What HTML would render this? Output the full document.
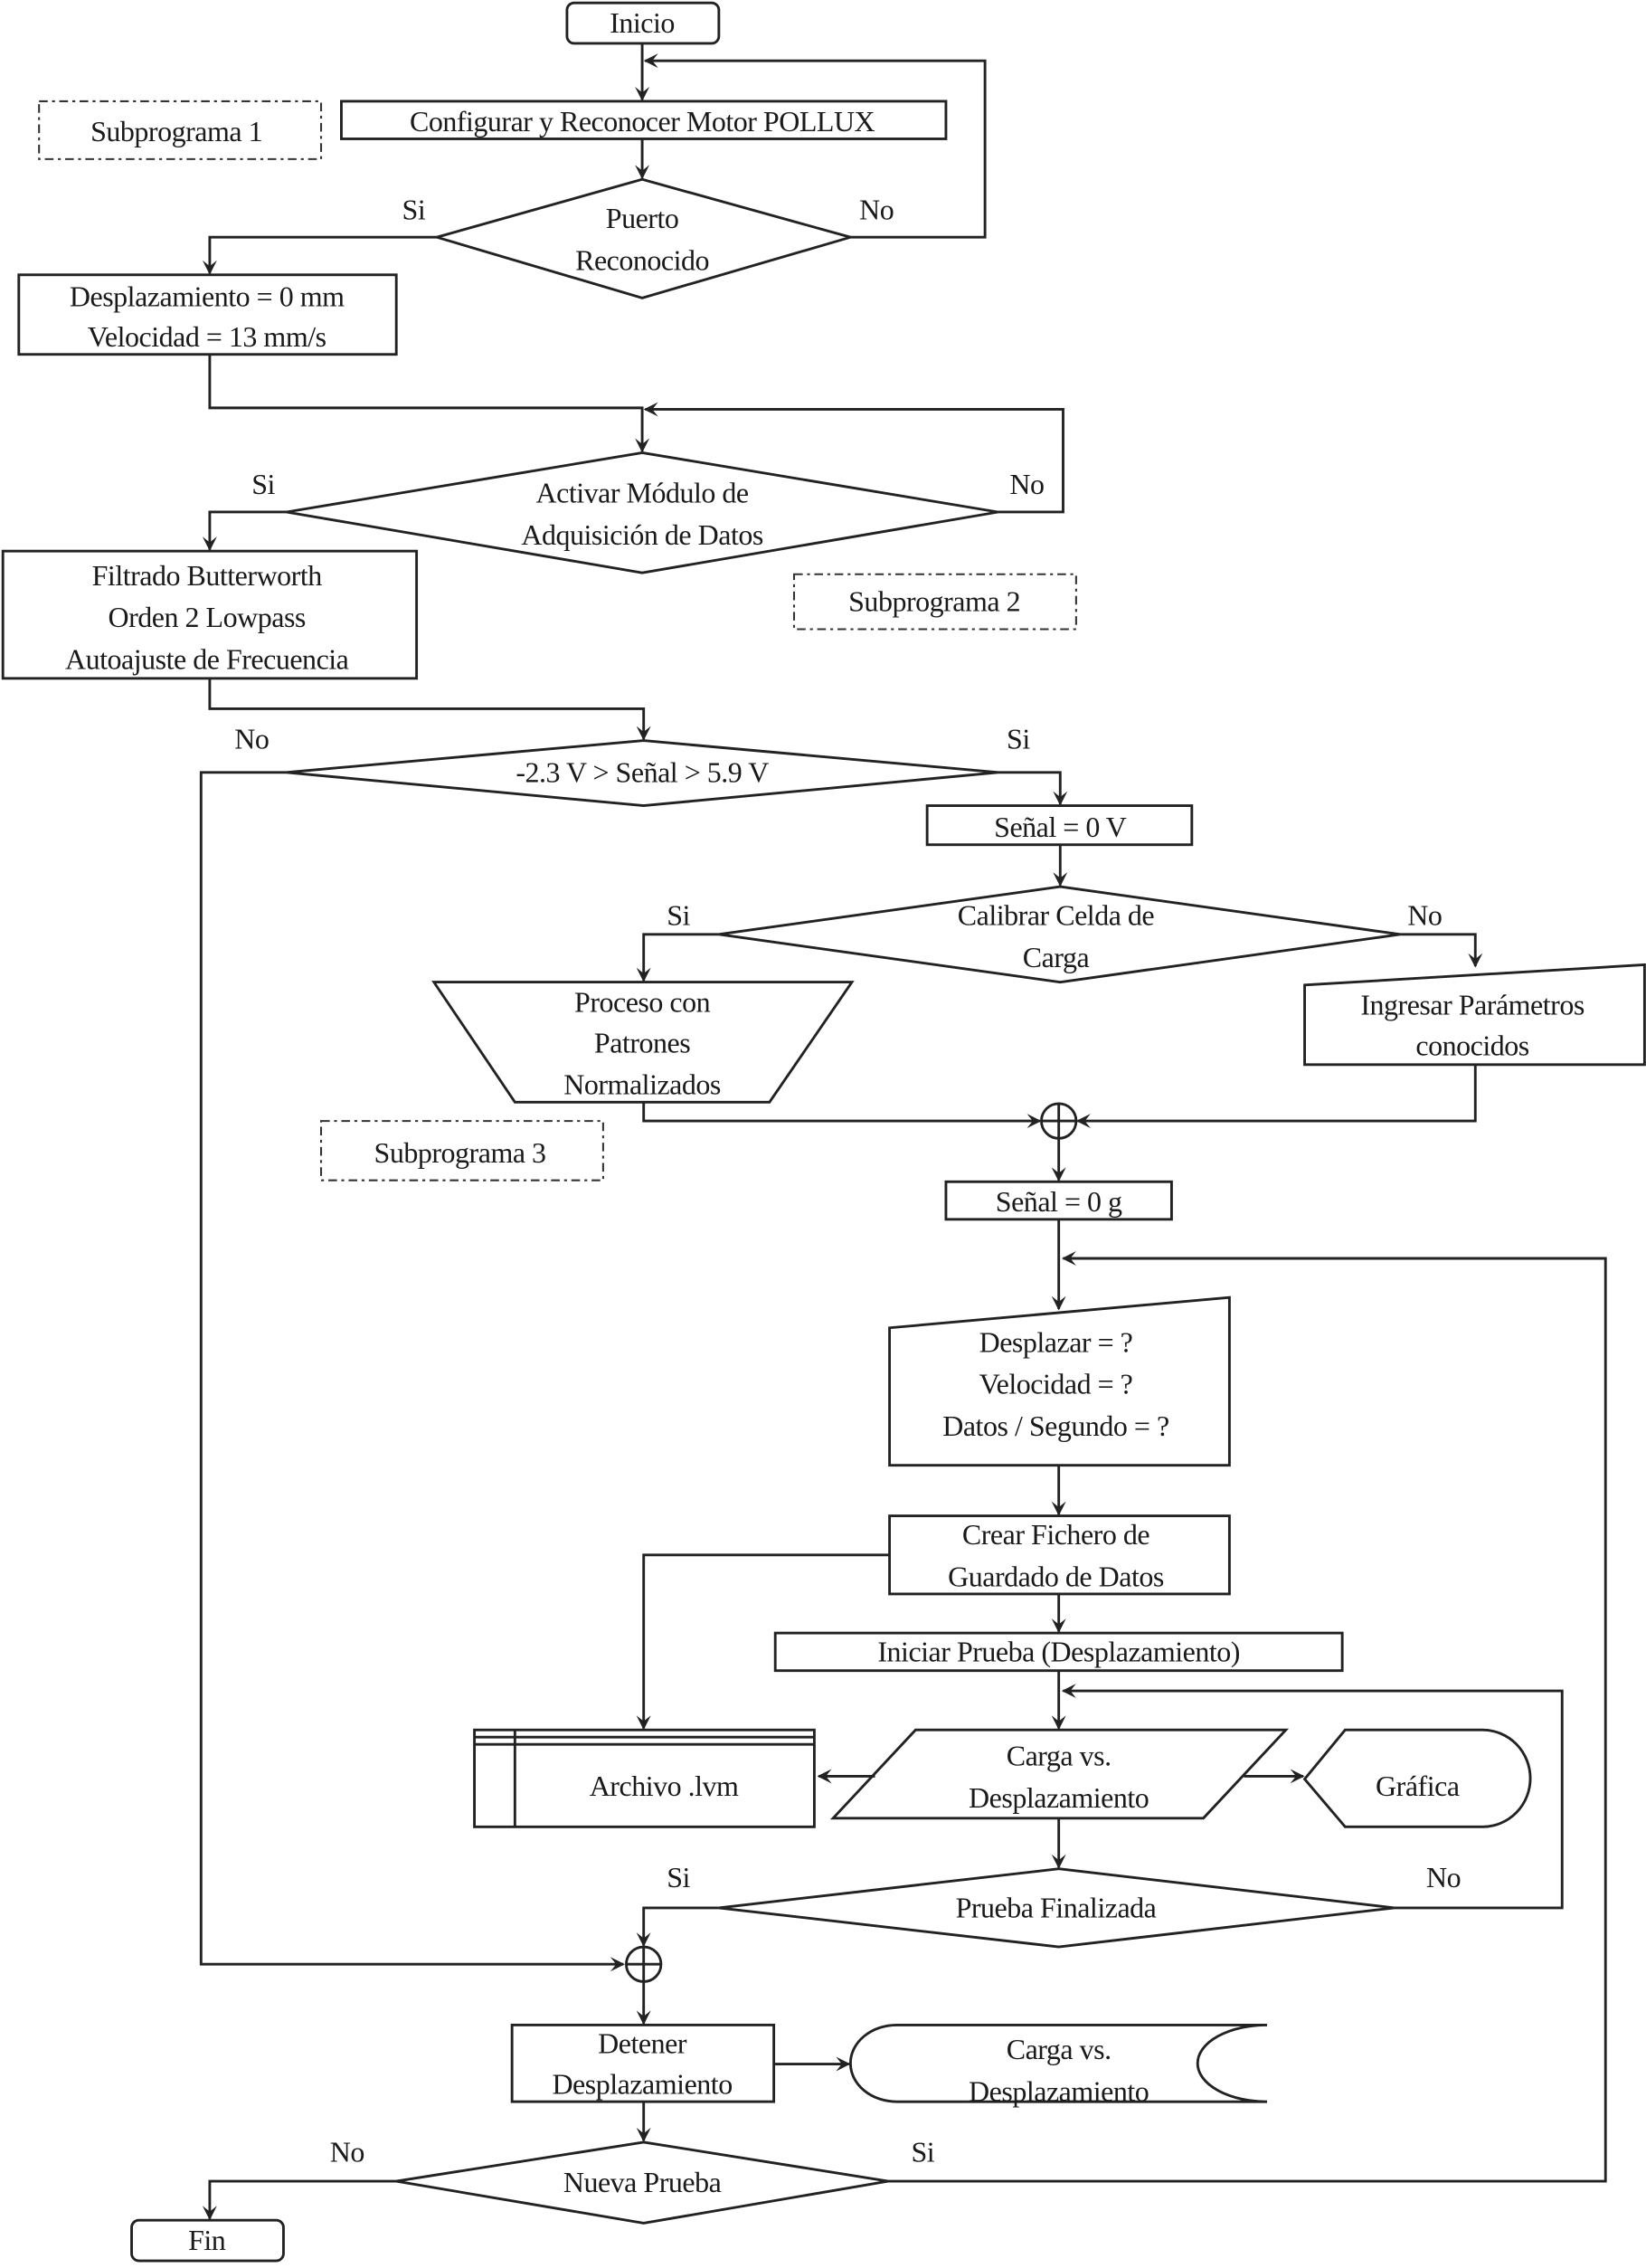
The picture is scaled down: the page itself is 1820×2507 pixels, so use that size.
<!DOCTYPE html>
<html><head><meta charset="utf-8"><style>
html,body{margin:0;padding:0;background:#fff;}
svg{display:block;}
text{font-family:"Liberation Serif",serif;font-size:20px;fill:#1a1a1a;text-anchor:middle;dominant-baseline:middle;letter-spacing:-0.3px;}
.s{fill:none;stroke:#222;stroke-width:1.8;}
.d{fill:none;stroke:#333;stroke-width:1.3;stroke-dasharray:6 3 2 3;}
</style></head><body>
<svg width="1820" height="2507" viewBox="0 0 1138 1568" preserveAspectRatio="none" xmlns="http://www.w3.org/2000/svg">
<defs><marker id="a" markerWidth="10" markerHeight="10" refX="9" refY="5" orient="auto" markerUnits="userSpaceOnUse"><path d="M0,0 L10,5 L0,10 L4,5 Z" fill="#222"/></marker></defs>

<g>
<rect class="s" x="392" y="2" width="105" height="28" rx="5"/>
<line class="s" x1="444" y1="30" x2="444" y2="69" marker-end="url(#a)"/>
<polyline class="s" points="588,164 681,164 681,42 446,42" marker-end="url(#a)"/>
<rect class="d" x="27" y="70" width="195" height="40"/>
<rect class="s" x="236" y="70" width="418" height="26"/>
<line class="s" x1="444" y1="96" x2="444" y2="123" marker-end="url(#a)"/>
<polygon class="s" points="444,124 588,164 444,206 302,164"/>
<polyline class="s" points="302,164 145,164 145,189" marker-end="url(#a)"/>
<rect class="s" x="13" y="190" width="261" height="55"/>
<polyline class="s" points="145,245 145,282 444,282 444,312" marker-end="url(#a)"/>
<polyline class="s" points="690,354 735,354 735,283 446,283" marker-end="url(#a)"/>
<polygon class="s" points="444,313 690,354 444,396 198,354"/>
<polyline class="s" points="198,354 145,354 145,380" marker-end="url(#a)"/>
<rect class="s" x="2" y="381" width="286" height="88"/>
<rect class="d" x="549" y="397" width="195" height="38"/>
<polyline class="s" points="145,469 145,490 445,490 445,511" marker-end="url(#a)"/>
<polygon class="s" points="445,512 690,534 445,557 198,534"/>
<polyline class="s" points="198,534 139,534 139,1358 431,1358" marker-end="url(#a)"/>
<polyline class="s" points="690,534 733,534 733,556" marker-end="url(#a)"/>
<rect class="s" x="641" y="557" width="183" height="27"/>
<line class="s" x1="733" y1="584" x2="733" y2="612" marker-end="url(#a)"/>
<polygon class="s" points="733,613 968,646 733,679 497,646"/>
<polyline class="s" points="497,646 445,646 445,678" marker-end="url(#a)"/>
<polygon class="s" points="300,679 589,679 532,762 356,762"/>
<polyline class="s" points="968,646 1020,646 1020,668" marker-end="url(#a)"/>
<polygon class="s" points="902,681 1137,667 1137,736 902,736"/>
<polyline class="s" points="445,762 445,775 719,775" marker-end="url(#a)"/>
<polyline class="s" points="1020,736 1020,775 745,775" marker-end="url(#a)"/>
<circle class="s" cx="732" cy="775" r="12"/><line class="s" x1="720" y1="775" x2="744" y2="775"/><line class="s" x1="732" y1="763" x2="732" y2="787"/>
<rect class="d" x="222" y="775" width="195" height="41"/>
<line class="s" x1="732" y1="787" x2="732" y2="816" marker-end="url(#a)"/>
<rect class="s" x="654" y="817" width="156" height="26"/>
<line class="s" x1="732" y1="843" x2="732" y2="905" marker-end="url(#a)"/>
<polyline class="s" points="614,1508 1110,1508 1110,870 735,870" marker-end="url(#a)"/>
<polygon class="s" points="615,918 850,897 850,1013 615,1013"/>
<line class="s" x1="732" y1="1013" x2="732" y2="1047" marker-end="url(#a)"/>
<rect class="s" x="615" y="1048" width="235" height="54"/>
<polyline class="s" points="615,1075 445,1075 445,1195" marker-end="url(#a)"/>
<line class="s" x1="732" y1="1102" x2="732" y2="1128" marker-end="url(#a)"/>
<rect class="s" x="536" y="1129" width="392" height="26"/>
<line class="s" x1="732" y1="1155" x2="732" y2="1195" marker-end="url(#a)"/>
<polyline class="s" points="964,1319 1080,1319 1080,1169 735,1169" marker-end="url(#a)"/>
<rect class="s" x="328" y="1196" width="235" height="67"/>
<line class="s" x1="328" y1="1201" x2="563" y2="1201"/><line class="s" x1="328" y1="1206" x2="563" y2="1206"/>
<line class="s" x1="356" y1="1196" x2="356" y2="1263"/>
<polygon class="s" points="633,1196 889,1196 832,1257 576,1257"/>
<line class="s" x1="605" y1="1228" x2="566" y2="1228" marker-end="url(#a)"/>
<line class="s" x1="860" y1="1228" x2="901" y2="1228" marker-end="url(#a)"/>
<path class="s" d="M902,1230 L930,1196 L1025,1196 A33,33.5 0 0 1 1025,1263 L930,1263 Z"/>
<line class="s" x1="732" y1="1257" x2="732" y2="1291" marker-end="url(#a)"/>
<polygon class="s" points="732,1292 964,1319 732,1346 497,1319"/>
<polyline class="s" points="497,1319 445,1319 445,1345" marker-end="url(#a)"/>
<circle class="s" cx="445" cy="1358" r="12"/><line class="s" x1="433" y1="1358" x2="457" y2="1358"/><line class="s" x1="445" y1="1346" x2="445" y2="1370"/>
<line class="s" x1="445" y1="1370" x2="445" y2="1399" marker-end="url(#a)"/>
<rect class="s" x="354" y="1400" width="181" height="53"/>
<line class="s" x1="535" y1="1427" x2="587" y2="1427" marker-end="url(#a)"/>
<path class="s" d="M876,1400 L620,1400 A32,26.5 0 0 0 620,1453 L876,1453 M876,1400 A48,26.5 0 0 0 876,1453"/>
<line class="s" x1="445" y1="1453" x2="445" y2="1480" marker-end="url(#a)"/>
<polygon class="s" points="445,1481 614,1508 445,1537 274,1508"/>
<polyline class="s" points="274,1508 145,1508 145,1534" marker-end="url(#a)"/>
<rect class="s" x="91" y="1535" width="105" height="28" rx="5"/>
</g>

<g transform="translate(0,2)">
<text x="444" y="16">Inicio</text>
<text x="122" y="91">Subprograma 1</text>
<text x="444" y="84">Configurar y Reconocer Motor POLLUX</text>
<text x="444" y="151">Puerto</text><text x="444" y="180">Reconocido</text>
<text x="286" y="145">Si</text><text x="606" y="145">No</text>
<text x="143" y="205">Desplazamiento = 0 mm</text><text x="143" y="233">Velocidad = 13 mm/s</text>
<text x="444" y="341">Activar Módulo de</text><text x="444" y="370">Adquisición de Datos</text>
<text x="182" y="335">Si</text><text x="710" y="335">No</text>
<text x="143" y="398">Filtrado Butterworth</text><text x="143" y="427">Orden 2 Lowpass</text><text x="143" y="456">Autoajuste de Frecuencia</text>
<text x="646" y="416">Subprograma 2</text>
<text x="444" y="534">-2.3 V &gt; Señal &gt; 5.9 V</text>
<text x="174" y="511">No</text><text x="704" y="511">Si</text>
<text x="733" y="572">Señal = 0 V</text>
<text x="730" y="633">Calibrar Celda de</text><text x="730" y="662">Carga</text>
<text x="469" y="633">Si</text><text x="985" y="633">No</text>
<text x="444" y="693">Proceso con</text><text x="444" y="721">Patrones</text><text x="444" y="750">Normalizados</text>
<text x="1018" y="695">Ingresar Parámetros</text><text x="1018" y="723">conocidos</text>
<text x="318" y="797">Subprograma 3</text>
<text x="732" y="831">Señal = 0 g</text>
<text x="730" y="928">Desplazar = ?</text><text x="730" y="957">Velocidad = ?</text><text x="730" y="986">Datos / Segundo = ?</text>
<text x="730" y="1061">Crear Fichero de</text><text x="730" y="1090">Guardado de Datos</text>
<text x="732" y="1142">Iniciar Prueba (Desplazamiento)</text>
<text x="459" y="1235">Archivo .lvm</text>
<text x="732" y="1214">Carga vs.</text><text x="732" y="1243">Desplazamiento</text>
<text x="980" y="1235">Gráfica</text>
<text x="730" y="1319">Prueba Finalizada</text>
<text x="469" y="1298">Si</text><text x="998" y="1298">No</text>
<text x="444" y="1413">Detener</text><text x="444" y="1441">Desplazamiento</text>
<text x="732" y="1417">Carga vs.</text><text x="732" y="1446">Desplazamiento</text>
<text x="444" y="1509">Nueva  Prueba</text>
<text x="240" y="1488">No</text><text x="638" y="1488">Si</text>
<text x="143" y="1549">Fin</text>
</g>
</svg>
</body></html>
